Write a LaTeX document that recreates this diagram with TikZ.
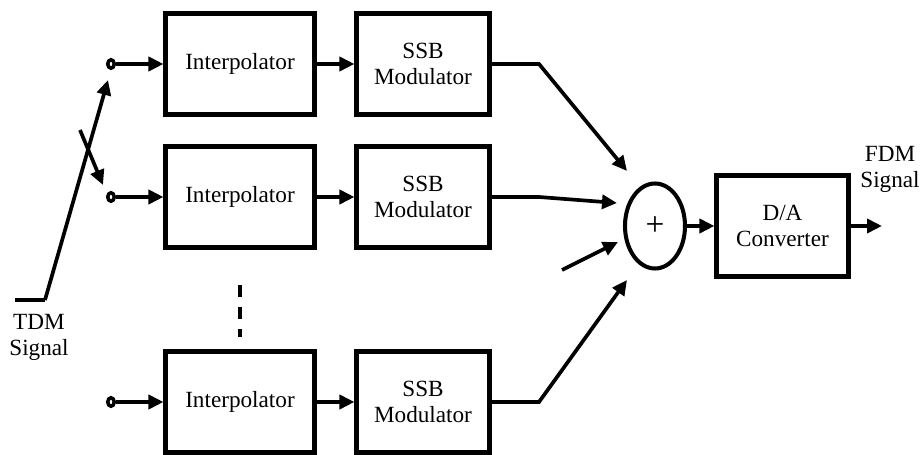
\documentclass[tikz,border=0pt]{standalone}
\usepackage{fontspec}
\setmainfont{Liberation Serif}
\usepackage{tikz}
\usetikzlibrary{arrows.meta,positioning,calc,shapes.geometric}
\tikzset{
  blockbox/.style={draw, line width=2.3pt, align=center, minimum width=2.98cm, minimum height=2.02cm, inner sep=2pt, font=\fontsize{13.2}{14.8}\selectfont},
  ssbbox/.style={blockbox, minimum width=2.66cm},
  dabox/.style={blockbox, minimum width=2.64cm},
  sumnode/.style={draw, ellipse, line width=2.3pt, minimum width=1.2cm, minimum height=1.7cm, inner sep=0pt, font=\fontsize{19}{20}\selectfont},
  termnode/.style={draw, ellipse, line width=2pt, fill=white, inner sep=0pt, minimum width=0.13cm, minimum height=0.17cm},
  sigarrow/.style={-{Triangle[length=3mm,width=2.8mm]}, line width=2.1pt},
  sigline/.style={line width=2.1pt},
  siglabel/.style={align=center, inner sep=0pt, font=\fontsize{13.2}{14.8}\selectfont}
}
\begin{document}
\begin{tikzpicture}
\useasboundingbox (0,0) rectangle (18.46,-9.1);
% branches
\node[termnode] (t1) at (2.22,-1.28) {};
\node[termnode] (t2) at (2.22,-3.94) {};
\node[termnode] (t3) at (2.22,-8.04) {};
\node[blockbox] (ip1) at (4.8,-1.28) {Interpolator};
\node[blockbox] (ip2) at (4.8,-3.94) {Interpolator};
\node[blockbox] (ip3) at (4.8,-8.04) {Interpolator};
\node[ssbbox] (ssb1) at (8.46,-1.28) {SSB\\Modulator};
\node[ssbbox] (ssb2) at (8.46,-3.94) {SSB\\Modulator};
\node[ssbbox] (ssb3) at (8.46,-8.04) {SSB\\Modulator};
\node[sumnode] (sum) at (13.1,-4.52) {+};
\node[dabox] (da) at (15.65,-4.52) {D/A\\Converter};
\node[siglabel] (tdm) at (0.78,-6.75) {TDM\\Signal};
\node[siglabel] (fdm) at (17.8,-3.38) {FDM\\Signal};
% switch
\coordinate (tdmin) at (0.3,-6.0);
\coordinate (pivot) at (0.9,-6.0);
\coordinate (arm1) at (2.16,-1.6);
\coordinate (arm2a) at (1.6,-2.6);
\coordinate (arm2b) at (2.06,-3.7);
% adder inputs
\coordinate (in1) at (12.54,-3.42);
\coordinate (in2) at (12.34,-4.06);
\coordinate (in3) at (12.54,-5.6);
\coordinate (in4a) at (11.24,-5.4);
\coordinate (in4b) at (12.36,-4.84);
\coordinate (out) at (17.64,-4.52);
\draw[sigline] (tdmin) -- (pivot);
\draw[sigarrow] (pivot) -- (arm1);
\draw[sigarrow] (arm2a) -- (arm2b);
\foreach \i in {1,2,3} {
  \draw[sigarrow] (t\i) -- (ip\i);
  \draw[sigarrow] (ip\i) -- (ssb\i);
}
\draw[sigarrow] (ssb1.east) -- ++(0.95,0) -- (in1);
\draw[sigarrow] (ssb2.east) -- ++(0.95,0) -- (in2);
\draw[sigarrow] (ssb3.east) -- ++(0.95,0) -- (in3);
\draw[sigarrow] (in4a) -- (in4b);
\draw[sigarrow] (sum) -- (da);
\draw[sigarrow] (da) -- (out);
\draw[sigline, dash pattern=on 0.24cm off 0.2cm, shorten <=0.71cm, shorten >=0.25cm] (ip2.south) -- (ip3.north);
\end{tikzpicture}
\end{document}
